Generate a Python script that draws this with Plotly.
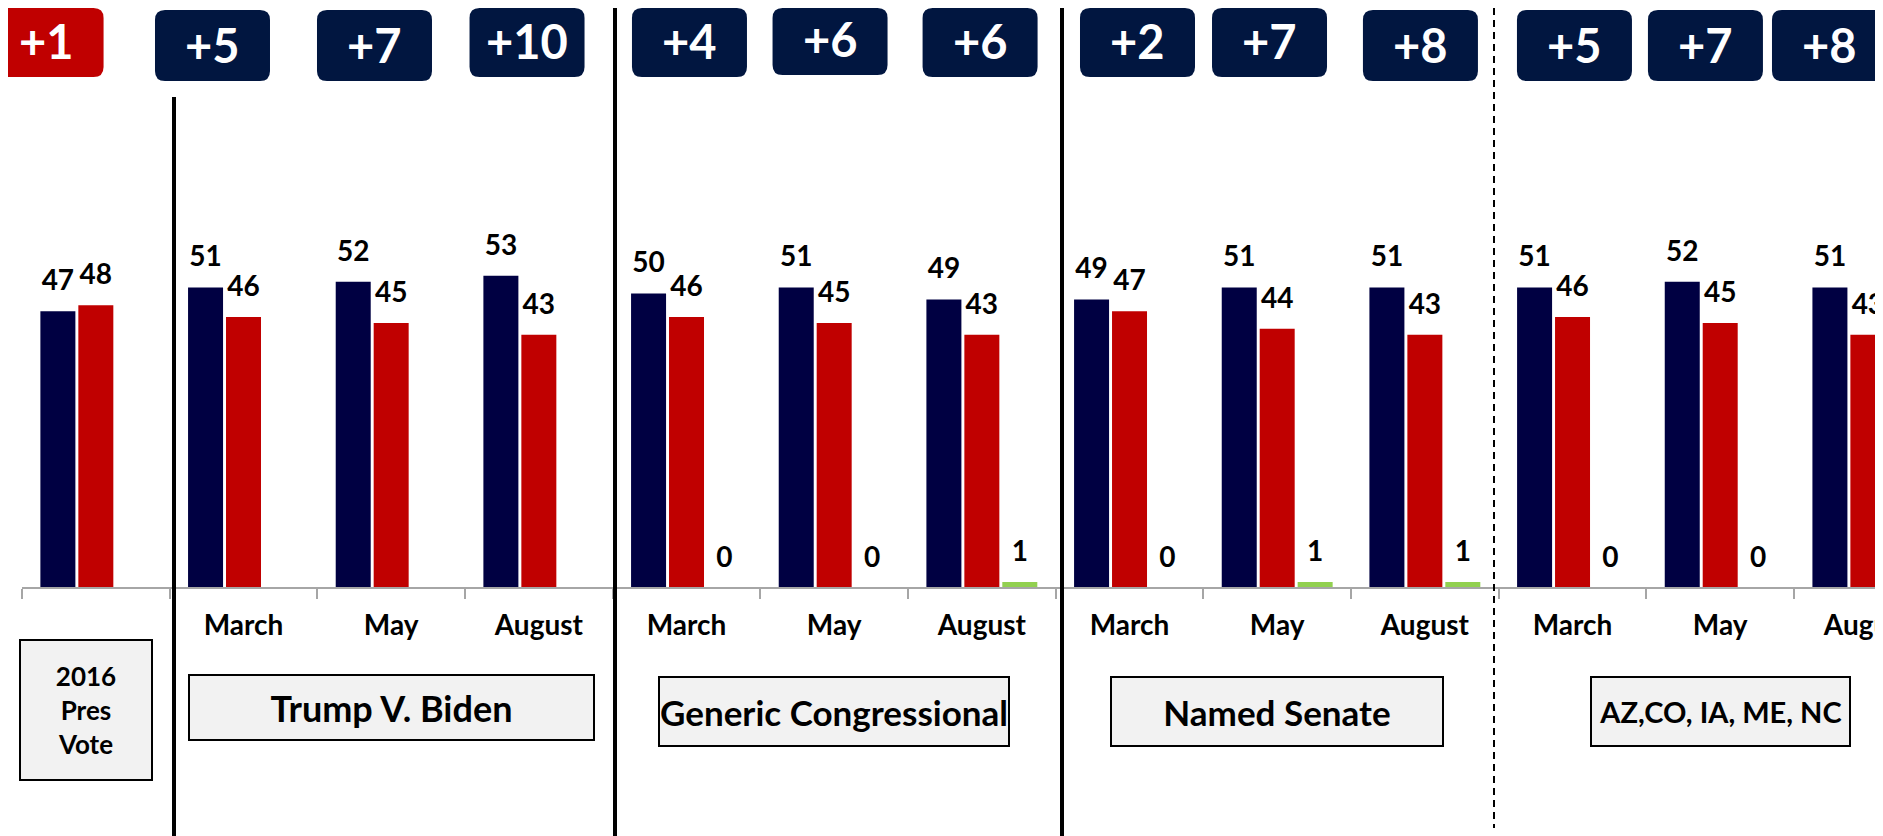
import plotly.graph_objects as go

# ---------------- data ----------------
categories = ["2016 Pres Vote",
              "TvB March", "TvB May", "TvB August",
              "GC March", "GC May", "GC August",
              "NS March", "NS May", "NS August",
              "ST March", "ST May", "ST August"]
month_labels = ["", "March", "May", "August", "March", "May", "August",
                "March", "May", "August", "March", "May", "August"]
dem = [47, 51, 52, 53, 50, 51, 49, 49, 51, 51, 51, 52, 51]
rep = [48, 46, 45, 43, 46, 45, 43, 47, 44, 43, 46, 45, 43]
other = [None, None, None, None, 0, 0, 1, 0, 1, 1, 0, 0, None]
margin_labels = ["+1", "+5", "+7", "+10", "+4", "+6", "+6", "+2", "+7", "+8", "+5", "+7", "+8"]
group_names = ["2016<br>Pres<br>Vote", "Trump V. Biden", "Generic Congressional",
               "Named Senate", "AZ,CO, IA, ME, NC"]
group_spans = [(0, 0), (1, 3), (4, 6), (7, 9), (10, 12)]

# ---------------- layout constants (page pixels) ----------------
BODY = 8                      # default page body margin
PAGE_W, PAGE_H = 1883, 836
W, H = PAGE_W - BODY, PAGE_H - BODY
AXIS_LEFT = 22                # page px where the x axis starts
AXIS_Y = 588                  # page px of the x axis line
PLOT_TOP, PLOT_BOTTOM = BODY, PAGE_H
ML = AXIS_LEFT - BODY
PLOT_W = W - ML
PLOT_H = PLOT_BOTTOM - PLOT_TOP
CAT_PX = 147.67
PX_PER_UNIT = 5.89
XMIN = -0.5
XMAX = XMIN + PLOT_W / CAT_PX
YMAX = (AXIS_Y - PLOT_TOP) / PX_PER_UNIT
YMIN = -(PLOT_BOTTOM - AXIS_Y) / PX_PER_UNIT
LABEL_DROP_PX = 40            # month labels below the axis line

NAVY = "#000042"
RED = "#C00000"
GREEN = "#92D050"
BADGE_NAVY = "#011640"
AXIS_GRAY = "#A6A6A6"
FONT = "Lato"

SLOT = 0.257
BW = 0.237
offsets = [-1.5 * SLOT + (SLOT - BW) / 2, -0.5 * SLOT + (SLOT - BW) / 2, 0.5 * SLOT + (SLOT - BW) / 2]

xs = list(range(len(categories)))


def px_x(px):
    return (px - AXIS_LEFT) / PLOT_W


def px_y(py):
    return (PLOT_BOTTOM - py) / PLOT_H


def data_to_px(x):
    return AXIS_LEFT + (x - XMIN) * CAT_PX


fig = go.Figure()
series = [(dem, NAVY, "Dem"), (rep, RED, "Rep"), (other, GREEN, "Other")]
for (vals, color, name), off in zip(series, offsets):
    fig.add_trace(go.Bar(
        x=xs, y=vals, name=name, customdata=categories,
        marker=dict(color=color, line=dict(width=0)),
        width=BW, offset=off, hovertemplate="%{customdata}: %{y}<extra></extra>",
    ))
# value labels above each bar (clipped to the plot area like the reference)
for (vals, color, name), off in zip(series, offsets):
    fig.add_trace(go.Scatter(
        x=[i + off + BW / 2 for i in xs], y=vals,
        text=["" if v is None else str(v) for v in vals],
        mode="markers+text", textposition="top center",
        marker=dict(size=21, color="rgba(0,0,0,0)"),
        textfont=dict(family=FONT, size=28, color="black", weight="bold"),
        cliponaxis=True, hoverinfo="skip", showlegend=False,
    ))
# month labels under the axis
fig.add_trace(go.Scatter(
    x=xs, y=[-LABEL_DROP_PX / PX_PER_UNIT] * len(xs), text=month_labels,
    mode="text", textposition="middle center",
    textfont=dict(family=FONT, size=28, color="black", weight="bold"),
    cliponaxis=True, hoverinfo="skip", showlegend=False,
))

annotations = []
shapes = []

# ---------------- top margin badges ----------------
badge_dx = [-0.337, -0.21, -0.113, -0.08, 0.02, -0.028, -0.012, 0.054, -0.052, -0.03, 0.013, -0.1, -0.26]
badge_top = [6, 10, 10, 6, 6, 4, 6, 6, 6, 10, 10, 10, 10]
BADGE_W, BADGE_H, BADGE_R = 115, 71, 10

for i, (lab, dx, top) in enumerate(zip(margin_labels, badge_dx, badge_top)):
    cx = data_to_px(i + dx)
    left_px, right_px = cx - BADGE_W / 2, cx + BADGE_W / 2
    cut_right = right_px > PAGE_W
    cut_left = left_px < BODY
    x0, x1 = px_x(max(left_px, BODY)), px_x(min(right_px, PAGE_W))
    y1, y0 = px_y(max(top, PLOT_TOP)), px_y(top + BADGE_H)
    rx = BADGE_R / PLOT_W
    ry = BADGE_R / PLOT_H
    if cut_right:
        right = f"L {x1},{y1} L {x1},{y0} "
    else:
        right = f"L {x1-rx},{y1} Q {x1},{y1} {x1},{y1-ry} L {x1},{y0+ry} Q {x1},{y0} {x1-rx},{y0} "
    if cut_left:
        left = f"L {x0},{y0} L {x0},{y1} "
        start = f"M {x0},{y1} "
    else:
        left = f"L {x0+rx},{y0} Q {x0},{y0} {x0},{y0+ry} L {x0},{y1-ry} Q {x0},{y1} {x0+rx},{y1} "
        start = f"M {x0+rx},{y1} "
    path = start + right + left + "Z"
    col = RED if rep[i] > dem[i] else BADGE_NAVY
    shapes.append(dict(type="path", path=path, xref="paper", yref="paper",
                       fillcolor=col, line=dict(width=0), layer="above"))
    annotations.append(dict(
        x=px_x(cx), y=px_y(top + BADGE_H / 2), xref="paper", yref="paper", text=lab,
        showarrow=False, xanchor="center", yanchor="middle",
        font=dict(family=FONT, size=47, color="white", weight="bold"),
    ))

# ---------------- separator lines ----------------
for px, top in zip([174, 615, 1062], [97, 8, 8]):
    shapes.append(dict(type="line", xref="paper", yref="paper",
                       x0=px_x(px), x1=px_x(px), y0=px_y(top), y1=px_y(PAGE_H),
                       line=dict(color="black", width=4), layer="above"))
shapes.append(dict(type="line", xref="paper", yref="paper",
                   x0=px_x(1494), x1=px_x(1494), y0=px_y(PLOT_TOP), y1=px_y(828),
                   line=dict(color="black", width=2, dash="7px,5px"), layer="above"))

# ---------------- group label boxes ----------------
box_w = [128, 401, 346, 328, 255]
box_h = [136, 61, 65, 65, 65]
box_cy = [710, 707.5, 711.5, 711.5, 711.5]
box_fs = [26, 36, 35, 35, 29]
for name, (a, b), bw_, bh, cy, fs in zip(group_names, group_spans, box_w, box_h, box_cy, box_fs):
    annotations.append(dict(
        x=(a + b) / 2 - (0.066 if a == b else 0), y=px_y(cy), xref="x", yref="paper",
        text=name, showarrow=False, xanchor="center", yanchor="middle",
        width=bw_, height=bh, bgcolor="#F2F2F2", bordercolor="black",
        borderwidth=2, borderpad=1, align="center", valign="middle",
        font=dict(family=FONT, size=fs, color="black", weight="bold"),
    ))

fig.update_layout(
    width=W, height=H,
    margin=dict(l=ML, r=0, t=0, b=0, pad=0),
    barmode="overlay",
    showlegend=False,
    plot_bgcolor="white", paper_bgcolor="white",
    shapes=shapes, annotations=annotations,
    xaxis=dict(
        range=[XMIN, XMAX], anchor="free", position=px_y(AXIS_Y),
        showline=True, linecolor=AXIS_GRAY, linewidth=2,
        showgrid=False, zeroline=False, showticklabels=False,
        tickmode="array", tickvals=xs, ticks="",
        minor=dict(ticks="outside", tick0=-0.5, dtick=1, ticklen=10,
                   tickcolor=AXIS_GRAY, tickwidth=2, showgrid=False),
    ),
    yaxis=dict(range=[YMIN, YMAX], visible=False),
)

fig.write_html("out.html")
